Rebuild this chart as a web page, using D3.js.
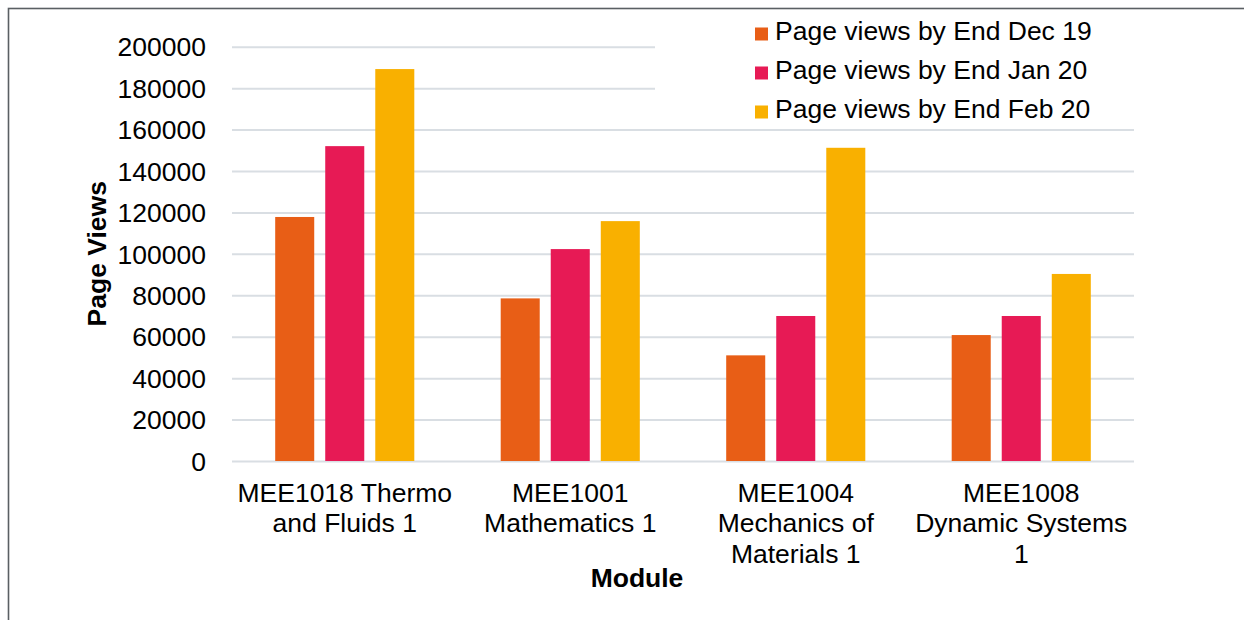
<!DOCTYPE html>
<html>
<head>
<meta charset="utf-8">
<script src="https://cdn.jsdelivr.net/npm/d3@7"></script>
<style>
  body { margin: 0; background: #fff; }
  svg { display: block; font-family: "Liberation Sans", Arial, sans-serif; }
</style>
</head>
<body>
<div id="chart"></div>
<script>
// data
const modules = [
  "MEE1018 Thermo and Fluids 1",
  "MEE1001 Mathematics 1",
  "MEE1004 Mechanics of Materials 1",
  "MEE1008 Dynamic Systems 1"
];
const seriesNames = [
  "Page views by End Dec 19",
  "Page views by End Jan 20",
  "Page views by End Feb 20"
];
const viewsDec19 = [117800, 78500, 51000, 60800];
const viewsJan20 = [152000, 102300, 70000, 70000];
const viewsFeb20 = [189200, 115800, 151200, 90300];
const yTicks = [0, 20000, 40000, 60000, 80000, 100000, 120000, 140000, 160000, 180000, 200000];
const colors = ["#E85E16", "#E71A55", "#F9B000"];

const config = { width: 1244, height: 620, left: 232, right: 110, top: 46.7, bottom: 159 };
const innerW = config.width - config.left - config.right;
const fontSize = 26.5;

const svg = d3.select("#chart").append("svg")
  .attr("width", config.width)
  .attr("height", config.height);

// outer frame
svg.append("rect")
  .attr("x", 8.5).attr("y", 8.5)
  .attr("width", 1300).attr("height", 700)
  .attr("fill", "none")
  .attr("stroke", "#5a5f63")
  .attr("stroke-width", 1.6);

const x0 = d3.scaleBand()
  .domain(modules)
  .range([config.left, config.width - config.right])
  .paddingInner(0)
  .paddingOuter(0);

const x1 = d3.scaleBand()
  .domain(seriesNames)
  .range([43.2, x0.bandwidth() - 43.2])
  .paddingInner(0.22)
  .paddingOuter(0);

const y = d3.scaleLinear()
  .domain([0, 200000])
  .range([config.height - config.bottom + 20, config.top]);
// 0 sits at y=461
y.range([461, 46.7]);

// gridlines + tick labels
const yAxis = d3.axisLeft(y)
  .tickValues(yTicks)
  .tickSize(-innerW)
  .tickPadding(26)
  .tickFormat(d3.format("d"));

const gy = svg.append("g")
  .attr("transform", `translate(${config.left},0)`)
  .call(yAxis);
gy.select(".domain").remove();
gy.selectAll(".tick line")
  .attr("stroke", "#d9dee3")
  .attr("stroke-width", 2);
gy.selectAll(".tick text")
  .attr("font-size", fontSize)
  .attr("font-family", "Liberation Sans, Arial, sans-serif")
  .attr("fill", "#000")
  .attr("dy", "0.35em");

// bars
const table = modules.map((m, i) => ({
  module: m,
  values: [viewsDec19[i], viewsJan20[i], viewsFeb20[i]]
}));

const groups = svg.append("g").selectAll("g")
  .data(table)
  .join("g")
  .attr("transform", d => `translate(${x0(d.module)},0)`);

groups.selectAll("rect")
  .data(d => d.values.map((v, j) => ({ key: seriesNames[j], value: v, j })))
  .join("rect")
  .attr("x", d => x1(d.key))
  .attr("width", x1.bandwidth())
  .attr("y", d => y(d.value))
  .attr("height", d => y(0) - y(d.value))
  .attr("fill", d => colors[d.j]);

// category labels (wrapped)
const lineH = 30.8;
const xl = svg.append("g");
modules.forEach(m => {
  const t = xl.append("text")
    .attr("x", x0(m) + x0.bandwidth() / 2)
    .attr("y", 501.5)
    .attr("text-anchor", "middle")
    .attr("font-size", fontSize)
    .attr("fill", "#000");
  const words = m.split(" ");
  let line = [];
  let lineNo = 0;
  let tspan = t.append("tspan").attr("x", x0(m) + x0.bandwidth() / 2).attr("dy", 0);
  words.forEach(w => {
    line.push(w);
    tspan.text(line.join(" "));
    if (tspan.node().getComputedTextLength() > 221 && line.length > 1) {
      line.pop();
      tspan.text(line.join(" "));
      line = [w];
      lineNo++;
      tspan = t.append("tspan")
        .attr("x", x0(m) + x0.bandwidth() / 2)
        .attr("dy", lineH)
        .text(w);
    }
  });
});

// axis titles
svg.append("text")
  .attr("x", 637)
  .attr("y", 587)
  .attr("text-anchor", "middle")
  .attr("font-size", fontSize)
  .attr("font-weight", "bold")
  .text("Module");

svg.append("text")
  .attr("transform", `translate(106,253.8) rotate(-90)`)
  .attr("text-anchor", "middle")
  .attr("font-size", fontSize)
  .attr("font-weight", "bold")
  .text("Page Views");

// legend
const legend = svg.append("g");
legend.append("rect")
  .attr("x", 655).attr("y", 10)
  .attr("width", config.width - config.right - 655)
  .attr("height", 118)
  .attr("fill", "#fff");

const items = legend.selectAll("g.item")
  .data(seriesNames)
  .join("g")
  .attr("class", "item")
  .attr("transform", (d, i) => `translate(755,${39.5 + i * 39})`);

items.append("rect")
  .attr("x", 0).attr("y", -12)
  .attr("width", 13).attr("height", 13)
  .attr("fill", (d, i) => colors[i]);

items.append("text")
  .attr("x", 20)
  .attr("y", 0)
  .attr("font-size", fontSize)
  .attr("fill", "#000")
  .text(d => d);
</script>
</body>
</html>
